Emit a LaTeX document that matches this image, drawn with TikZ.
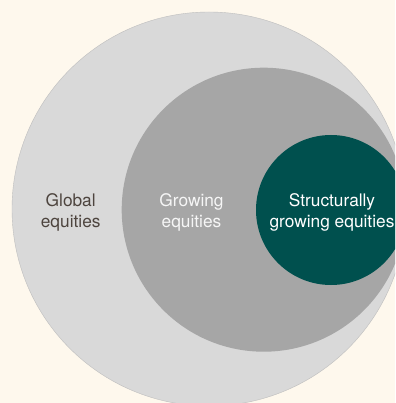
\documentclass[tikz,border=0pt]{standalone}
\usepackage{fontspec}
\setmainfont{TeX Gyre Heros}
\definecolor{bgcream}{RGB}{254,248,237}
\definecolor{lightgrey}{RGB}{217,217,217}
\definecolor{edgegrey}{RGB}{190,190,190}
\definecolor{midgrey}{RGB}{166,166,166}
\definecolor{deepteal}{RGB}{0,80,78}
\definecolor{textdark}{RGB}{77,68,62}
\definecolor{textlight}{RGB}{246,246,246}
\begin{document}
\begin{tikzpicture}[x=1pt,y=-1pt,
  ring/.style={circle, inner sep=0pt, outer sep=0pt},
  lbl/.style={align=center, inner sep=0pt, font=\fontsize{17.3}{20.5}\selectfont}]
\useasboundingbox (0,0) rectangle (395,403);
\fill[bgcream] (0,0) rectangle (395,403);
\clip (0,0) rectangle (395,403);
\node[ring, minimum size=394pt, fill=lightgrey, draw=edgegrey, line width=0.4pt] (global) at (209,209) {};
\node[ring, minimum size=284pt, fill=midgrey] (growing) at (263.7,209.7) {};
\node[ring, minimum size=150pt, fill=deepteal] (structural) at (331,210) {};
\node[lbl, text=textdark] (tglobal) at (70.7,212.5) {Global\\equities};
\node[lbl, text=textlight] (tgrowing) at (191.5,212.5) {Growing\\equities};
\node[lbl, text=white] (tstructural) at (332,212.5) {Structurally\\growing equities};
\end{tikzpicture}
\end{document}
